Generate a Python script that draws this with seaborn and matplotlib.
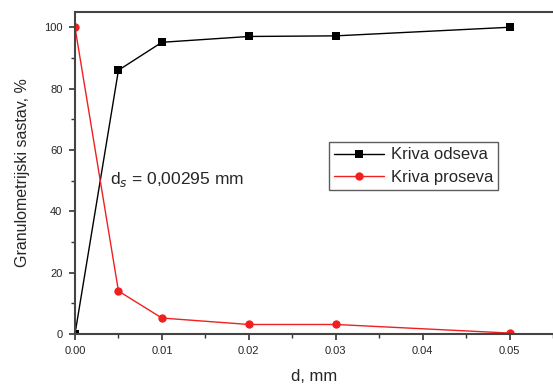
import numpy as np
import pandas as pd
import matplotlib
matplotlib.use("Agg")
import matplotlib.pyplot as plt
import seaborn as sns
from matplotlib.ticker import MultipleLocator

# values
d_mm = [0.0, 0.005, 0.01, 0.02, 0.03, 0.05]
odsev = [0.0, 86.0, 95.1, 97.0, 97.2, 100.0]
prosev = [100.0, 14.0, 5.2, 3.1, 3.1, 0.3]
names = ["Kriva odseva", "Kriva proseva"]

df = pd.DataFrame({
    "d": d_mm * 2,
    "val": odsev + prosev,
    "kriva": [names[0]] * len(d_mm) + [names[1]] * len(d_mm),
})

sns.set_style("ticks")
plt.rcParams["font.family"] = ["Liberation Sans", "DejaVu Sans"]

fig = plt.figure(figsize=(5.53, 3.85), dpi=100)
ax = fig.add_axes([0.1356, 0.1325, 0.8644, 0.8365])

sns.lineplot(data=df, x="d", y="val", hue="kriva", style="kriva",
             palette={names[0]: "black", names[1]: "#f02020"},
             markers={names[0]: "s", names[1]: "o"}, dashes=False,
             markersize=6, markeredgewidth=0, linewidth=1.0, ax=ax)

ax.set_xlim(0, 0.055)
ax.set_ylim(0, 105)
ax.set_xticks([0.0, 0.01, 0.02, 0.03, 0.04, 0.05])
ax.set_xticklabels(["0.00", "0.01", "0.02", "0.03", "0.04", "0.05"])
ax.set_yticks([0, 20, 40, 60, 80, 100])
ax.xaxis.set_minor_locator(MultipleLocator(0.005))
ax.yaxis.set_minor_locator(MultipleLocator(10))
ax.tick_params(which="major", length=4, width=1.2, labelsize=8, pad=5, color="#333333")
ax.tick_params(which="minor", length=3, width=1.0, color="#333333")
for s in ["left", "bottom", "top"]:
    ax.spines[s].set_color("#444444")
    ax.spines[s].set_linewidth(1.5)
ax.spines["right"].set_visible(False)

ax.set_xlabel("d, mm", fontsize=12, labelpad=9)
ax.set_ylabel("Granulometrijski sastav, %", fontsize=11.5, labelpad=10)

ax.text(0.0040, 50.5, "d$_s$ = 0,00295 mm", fontsize=12.5, va="center", ha="left")

leg = ax.legend(loc="upper left", bbox_to_anchor=(0.532, 0.595), fontsize=12,
                frameon=True, fancybox=False, edgecolor="#333333",
                handlelength=3, borderpad=0.3, labelspacing=0.45, handletextpad=0.4,
                borderaxespad=0)
leg.get_frame().set_linewidth(1.0)

fig.savefig("out.png", dpi=100)
